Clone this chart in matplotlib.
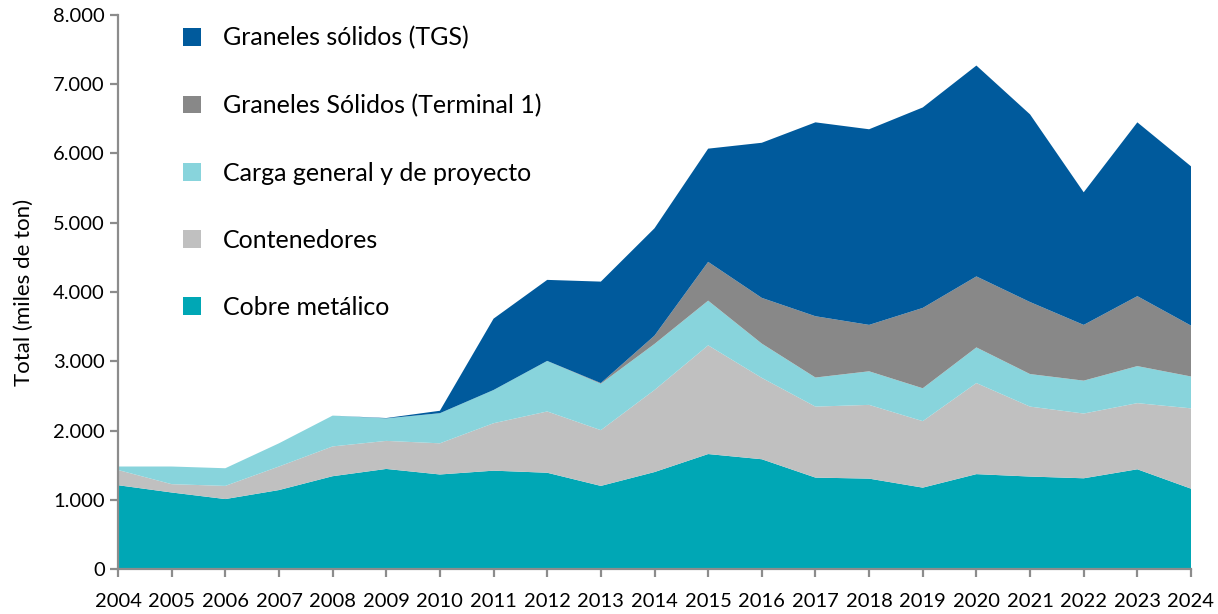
import numpy as np
import matplotlib
matplotlib.use('Agg')
import matplotlib.pyplot as plt
from matplotlib.patches import Patch
from matplotlib.ticker import FuncFormatter

plt.rcParams['font.family'] = ['Lato', 'DejaVu Sans']

years = list(range(2004, 2025))
# miles de toneladas por tipo de carga
cobre = [1210, 1105, 1010, 1140, 1340, 1445, 1365, 1420, 1390, 1200, 1400,
         1660, 1585, 1320, 1305, 1175, 1370, 1335, 1310, 1440, 1160]
contenedores = [220, 120, 190, 340, 430, 405, 450, 685, 885, 805, 1185,
                1570, 1175, 1025, 1065, 960, 1315, 1010, 935, 955, 1160]
carga_general = [50, 255, 255, 335, 445, 325, 435, 480, 730, 670, 665,
                 645, 495, 420, 485, 475, 515, 470, 475, 535, 460]
graneles_t1 = [0, 0, 0, 0, 0, 0, 0, 0, 0, 10, 120,
               560, 660, 885, 670, 1160, 1025, 1040, 805, 1010, 735]
graneles_tgs = [0, 0, 0, 0, 0, 5, 35, 1030, 1170, 1465, 1550,
                1635, 2240, 2800, 2825, 2895, 3045, 2710, 1915, 2510, 2300]

labels = ['Cobre metálico', 'Contenedores', 'Carga general y de proyecto',
          'Graneles Sólidos (Terminal 1)', 'Graneles sólidos (TGS)']
colors = ['#00a7b5', '#c0c0c0', '#88d4dc', '#888888', '#005a9c']

fig = plt.figure(figsize=(12.18, 6.14), dpi=100)
ax = fig.add_axes([118/1218, 45/614, (1191-118)/1218, (569-15)/614])

ax.stackplot(years, cobre, contenedores, carga_general, graneles_t1, graneles_tgs,
             colors=colors, linewidth=0)

ax.set_xlim(2004, 2024)
ax.set_ylim(0, 8000)
ax.set_xticks(years)
ax.set_yticks(np.arange(0, 8001, 1000))
ax.yaxis.set_major_formatter(FuncFormatter(lambda v, p: '{:,.0f}'.format(v).replace(',', '.')))

for s in ['top', 'right']:
    ax.spines[s].set_visible(False)
for s in ['left', 'bottom']:
    ax.spines[s].set_color('#8c8c8c')
    ax.spines[s].set_linewidth(1.6)
ax.tick_params(axis='both', direction='out', length=6, width=1.6, color='#8c8c8c',
               labelsize=14.5, labelcolor='black')
ax.tick_params(axis='x', pad=11)
ax.set_ylabel('Total (miles de ton)', fontsize=16, labelpad=14)

handles = [Patch(facecolor=c, edgecolor='none') for c in colors][::-1]
ax.legend(handles, labels[::-1], loc='upper left', bbox_to_anchor=(0.040, 1.02),
          frameon=False, fontsize=18, handlelength=0.72, handleheight=0.72,
          handletextpad=0.85, labelspacing=1.77)

fig.savefig('out.png', dpi=100)
